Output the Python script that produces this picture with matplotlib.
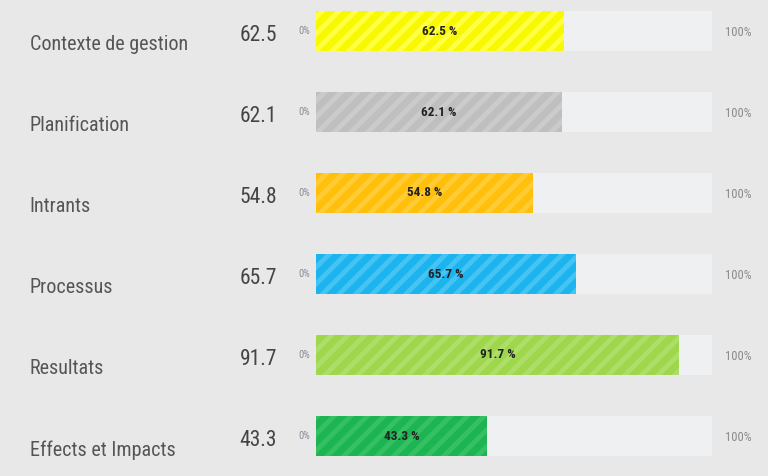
import matplotlib
matplotlib.use("Agg")
import matplotlib.pyplot as plt

categories = ["Contexte de gestion", "Planification", "Intrants",
              "Processus", "Resultats", "Effects et Impacts"]
values = [62.5, 62.1, 54.8, 65.7, 91.7, 43.3]
bar_colors = ["#f8f800", "#bfbfbf", "#ffbf0a", "#1cb4ef", "#9ed64c", "#1db452"]
stripe_colors = ["#ffff44", "#cbcbcb", "#ffcb36", "#45c3f3", "#addf68", "#36c065"]

plt.rcParams["font.family"] = ["Roboto Condensed", "DejaVu Sans"]
plt.rcParams["font.stretch"] = "condensed"
plt.rcParams["hatch.linewidth"] = 3.5

fig = plt.figure(figsize=(7.68, 4.76), dpi=100)
fig.patch.set_facecolor("#e8e8e8")
ax = fig.add_axes([0, 0, 1, 1])
ax.set_facecolor("#e8e8e8")

# 0 -> 316px, 100 -> 712px
px = 3.96
ax.set_xlim(-316 / px, (768 - 316) / px)
ax.set_ylim((476 - 31) / 81, -31 / 81)
ax.axis("off")

y = list(range(len(categories)))
ax.barh(y, [100] * len(y), height=0.5, color="#eef0f2", linewidth=0)
ax.barh(y, values, height=0.5, color=bar_colors, edgecolor=stripe_colors,
        hatch="//", linewidth=0)

for i, (cat, v) in enumerate(zip(categories, values)):
    ax.text(-72.3, i + 0.17, cat, fontsize=14.5, color="#555555",
            va="center", ha="left")
    ax.text(-19.3, i + 0.05, f"{v:.1f}", fontsize=15.5, color="#444444",
            va="center", ha="left")
    ax.text(-1.4, i, "0%", fontsize=7.5, color="#8a8a9a",
            va="center", ha="right")
    ax.text(103.2, i + 0.02, "100%", fontsize=9, color="#8a8a8a",
            va="center", ha="left")
    ax.text(v / 2, i, f"{v:.1f} %", fontsize=9.5, color="#222222",
            fontweight="bold", va="center", ha="center")

fig.savefig("out.png", dpi=100, facecolor=fig.get_facecolor())
